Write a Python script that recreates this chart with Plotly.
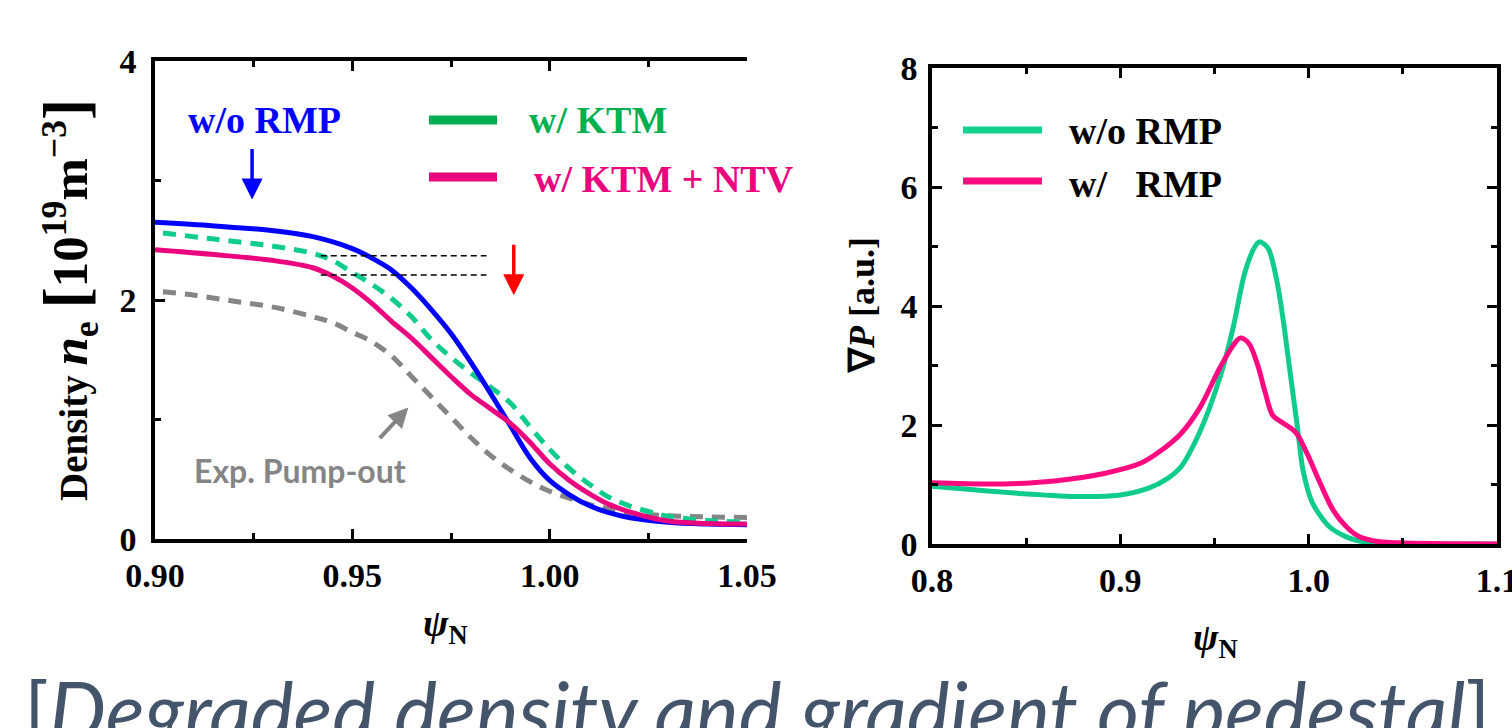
import plotly.graph_objects as go

# ---------------- data (left panel: density) ----------------
psi_blue = [0.900, 0.915, 0.930, 0.940, 0.950, 0.955, 0.960, 0.965, 0.970, 0.975, 0.980, 0.985,
            0.990, 0.995, 1.000, 1.005, 1.010, 1.015, 1.020, 1.030, 1.040, 1.050]
ne_no_rmp = [2.65, 2.62, 2.58, 2.53, 2.43, 2.35, 2.25, 2.10, 1.92, 1.72, 1.48, 1.22,
             0.95, 0.68, 0.49, 0.37, 0.28, 0.22, 0.18, 0.14, 0.125, 0.12]

psi_green = [0.902, 0.915, 0.930, 0.940, 0.945, 0.950, 0.955, 0.960, 0.965, 0.970, 0.975, 0.980,
             0.985, 0.990, 0.995, 1.000, 1.005, 1.010, 1.015, 1.020, 1.025, 1.030, 1.040, 1.050]
ne_ktm = [2.56, 2.51, 2.45, 2.39, 2.33, 2.23, 2.13, 2.01, 1.86, 1.67, 1.52, 1.39,
          1.27, 1.14, 0.94, 0.75, 0.59, 0.46, 0.35, 0.28, 0.23, 0.19, 0.155, 0.14]

psi_pink = [0.900, 0.915, 0.930, 0.940, 0.945, 0.950, 0.955, 0.960, 0.965, 0.970, 0.975, 0.980,
            0.985, 0.990, 0.995, 1.000, 1.005, 1.010, 1.015, 1.020, 1.030, 1.040, 1.050]
ne_ktm_ntv = [2.42, 2.38, 2.33, 2.27, 2.20, 2.10, 1.97, 1.82, 1.68, 1.52, 1.36, 1.21,
              1.09, 0.97, 0.81, 0.63, 0.49, 0.38, 0.29, 0.23, 0.15, 0.13, 0.125]

psi_exp = [0.902, 0.910, 0.920, 0.930, 0.940, 0.945, 0.950, 0.955, 0.960, 0.965, 0.970, 0.975,
           0.980, 0.985, 0.990, 0.995, 1.000, 1.010, 1.020, 1.030, 1.040, 1.050]
ne_exp = [2.07, 2.04, 1.99, 1.94, 1.86, 1.81, 1.73, 1.65, 1.53, 1.36, 1.19, 1.02,
          0.85, 0.70, 0.58, 0.48, 0.40, 0.29, 0.22, 0.195, 0.185, 0.18]

ref_psi = [0.942, 0.984]
ref_upper = [2.37, 2.37]
ref_lower = [2.21, 2.21]

# ---------------- data (right panel: pressure gradient) ----------------
psi_g = [0.800, 0.842, 0.876, 0.899, 0.915, 0.925, 0.932, 0.942, 0.953, 0.960, 0.966,
         0.9715, 0.974, 0.9785, 0.983, 0.9865, 0.990, 0.994, 0.997, 1.002, 1.011, 1.020,
         1.027, 1.035, 1.060, 1.100]
gradp_no_rmp = [0.97, 0.86, 0.80, 0.82, 0.94, 1.10, 1.29, 1.87, 2.81, 3.65, 4.55,
                5.00, 5.08, 4.97, 4.44, 3.76, 2.92, 1.97, 1.24, 0.69, 0.29, 0.12,
                0.05, 0.01, 0.0, 0.0]

psi_p = [0.800, 0.838, 0.865, 0.892, 0.911, 0.922, 0.932, 0.942, 0.953, 0.960, 0.9636,
         0.968, 0.9726, 0.977, 0.981, 0.9865, 0.993, 0.999, 1.006, 1.013, 1.020, 1.027,
         1.035, 1.047, 1.100]
gradp_rmp = [1.03, 1.01, 1.06, 1.19, 1.36, 1.58, 1.85, 2.28, 2.97, 3.34, 3.46,
             3.38, 3.04, 2.54, 2.16, 2.03, 1.88, 1.53, 1.03, 0.57, 0.29, 0.12,
             0.05, 0.02, 0.0]

# ---------------- style ----------------
W, H = 1512, 728
SERIF = "Liberation Serif, Times New Roman, serif"
BLUE = "#0000FF"
MINT = "#10CC8C"
PINK = "#EA047E"
GRAY = "#858585"
LEG_GREEN = "#00B050"


def px(x):
    return x / W


def py(y):
    return 1 - y / H


fig = go.Figure()

# left panel traces
fig.add_trace(go.Scatter(x=psi_exp, y=ne_exp, mode="lines", line=dict(color=GRAY, width=5, dash="13px,9px", shape="spline"),
                         xaxis="x", yaxis="y", showlegend=False))
fig.add_trace(go.Scatter(x=psi_green, y=ne_ktm, mode="lines", line=dict(color=MINT, width=5, dash="13px,9px", shape="spline"),
                         xaxis="x", yaxis="y", showlegend=False))
fig.add_trace(go.Scatter(x=psi_blue, y=ne_no_rmp, mode="lines", line=dict(color=BLUE, width=5, shape="spline"),
                         xaxis="x", yaxis="y", showlegend=False))
fig.add_trace(go.Scatter(x=psi_pink, y=ne_ktm_ntv, mode="lines", line=dict(color=PINK, width=5, shape="spline"),
                         xaxis="x", yaxis="y", showlegend=False))
fig.add_trace(go.Scatter(x=ref_psi, y=ref_upper, mode="lines", line=dict(color="black", width=1.5, dash="6px,4px"),
                         xaxis="x", yaxis="y", showlegend=False))
fig.add_trace(go.Scatter(x=ref_psi, y=ref_lower, mode="lines", line=dict(color="black", width=1.5, dash="6px,4px"),
                         xaxis="x", yaxis="y", showlegend=False))

# right panel traces
fig.add_trace(go.Scatter(x=psi_g, y=gradp_no_rmp, mode="lines",
                         line=dict(color=MINT, width=5, shape="spline", smoothing=0.8),
                         xaxis="x2", yaxis="y2", showlegend=False))
fig.add_trace(go.Scatter(x=psi_p, y=gradp_rmp, mode="lines",
                         line=dict(color="#FF0A80", width=5, shape="spline", smoothing=1.0),
                         xaxis="x2", yaxis="y2", showlegend=False))


def tickfont():
    return dict(family=SERIF, size=34, color="black", weight="bold")


def axis_common():
    return dict(showline=True, linecolor="black", linewidth=3.5, ticks="inside", tickwidth=3,
                ticklen=10, tickcolor="black", showgrid=False, zeroline=False, tickfont=tickfont(),
                automargin=False, ticklabeloverflow="allow")


def minor(vals):
    return dict(tickvals=vals, ticks="inside", ticklen=6, tickwidth=3, tickcolor="black")


fig.update_layout(
    width=W, height=H, margin=dict(l=0, r=0, t=0, b=0, autoexpand=False),
    paper_bgcolor="white", plot_bgcolor="white", showlegend=False,
    xaxis=dict(domain=[px(155), px(747)], range=[0.9, 1.05], anchor="y", mirror="allticks",
               tickvals=[0.90, 0.95, 1.00, 1.05], ticktext=["0.90", "0.95", "1.00", "1.05"],
               minor=minor([0.925, 0.975, 1.025]), ticklabelstandoff=3, **axis_common()),
    yaxis=dict(domain=[py(539), py(61)], range=[0, 4], anchor="x", mirror=False,
               tickvals=[0, 2, 4], ticktext=["0", "2", "4"],
               minor=minor([1, 3]), ticklabelstandoff=8, **axis_common()),
    yaxis3=dict(overlaying="y", side="right", anchor="x", range=[0, 3], tickvals=[1, 2],
                showticklabels=False, showline=True, linecolor="black", linewidth=3.5, ticks="inside",
                ticklen=10, tickwidth=3, tickcolor="black", showgrid=False, zeroline=False, automargin=False),
    xaxis2=dict(domain=[px(932), px(1497)], range=[0.8, 1.1], anchor="y2", mirror="allticks",
                tickvals=[0.8, 0.9, 1.0, 1.1], ticktext=["0.8", "0.9", "1.0", "1.1"],
                minor=minor([0.85, 0.95, 1.05]), ticklabelstandoff=3, **axis_common()),
    yaxis2=dict(domain=[py(544), py(68)], range=[0, 8], anchor="x2", mirror="allticks",
                tickvals=[0, 2, 4, 6, 8], ticktext=["0", "2", "4", "6", "8"],
                minor=minor([1, 3, 5, 7]), ticklabelstandoff=4, **axis_common()),
)

# legend keys (left)
for yk, col in [(120, LEG_GREEN), (177, PINK)]:
    fig.add_shape(type="line", xref="paper", yref="paper", x0=px(429), x1=px(497), y0=py(yk), y1=py(yk),
                  line=dict(color=col, width=9))
# legend keys (right)
for yk, col in [(130, "#12D28E"), (181, "#FF0A80")]:
    fig.add_shape(type="line", xref="paper", yref="paper", x0=px(963), x1=px(1042), y0=py(yk), y1=py(yk),
                  line=dict(color=col, width=7))

ann = []


def text(x, y, s, size, color="black", family=SERIF, bold=True, xanchor="left", angle=0, bg=None):
    d = dict(x=px(x), y=py(y), xref="paper", yref="paper", text=s, showarrow=False,
             xanchor=xanchor, yanchor="middle", textangle=angle,
             font=dict(family=family, size=size, color=color, weight="bold" if bold else "normal"))
    if bg:
        d.update(bgcolor=bg, borderpad=6)
    ann.append(d)


text(527, 120, "w/ KTM", 38, LEG_GREEN)
text(527, 179, "w/ KTM + NTV", 38, PINK, bg="white")
text(264, 120, "w/o RMP", 38, BLUE, xanchor="center")
text(1067, 131, "w/o RMP", 38)
text(1067, 184, "w/&nbsp;&nbsp; RMP", 38)
text(300, 470, "Exp. Pump-out", 32, GRAY, family="Lato", xanchor="center")

# axis titles
text(68, 300,
     "Density <span style='font-size:51px'><i>n</i><sub>e</sub> "
     "<span style='font-size:64px'>[</span>10<sup>19</sup>m<sup>−3</sup>"
     "<span style='font-size:64px'>]</span></span>",
     39, xanchor="center", angle=-90)
text(445, 626, "<i>ψ</i><sub>N</sub>", 38, xanchor="center")
text(1215, 640, "<i>ψ</i><sub>N</sub>", 38, xanchor="center")
text(862, 305, "∇<i>P</i> [a.u.]", 36, xanchor="center", angle=-90)

# caption
text(757, 709, "[<i>Degraded density and gradient of pedestal</i>]", 81, "#44546A", family="Lato",
     bold=False, xanchor="center")

# arrows
ann.append(dict(x=0.9246, y=2.84, xref="x", yref="y", ax=0, ay=-52, axref="pixel", ayref="pixel",
                text="", showarrow=True, arrowhead=2, arrowsize=1.2, arrowwidth=3.5, arrowcolor=BLUE))
ann.append(dict(x=0.9909, y=2.04, xref="x", yref="y", ax=0, ay=-52, axref="pixel", ayref="pixel",
                text="", showarrow=True, arrowhead=2, arrowsize=1.2, arrowwidth=3.5, arrowcolor="#FF0000"))
ann.append(dict(x=0.9642, y=1.10, xref="x", yref="y", ax=-30, ay=32, axref="pixel", ayref="pixel",
                text="", showarrow=True, arrowhead=2, arrowsize=1.0, arrowwidth=4, arrowcolor=GRAY))

fig.update_layout(annotations=ann)

fig.write_html("out.html")
